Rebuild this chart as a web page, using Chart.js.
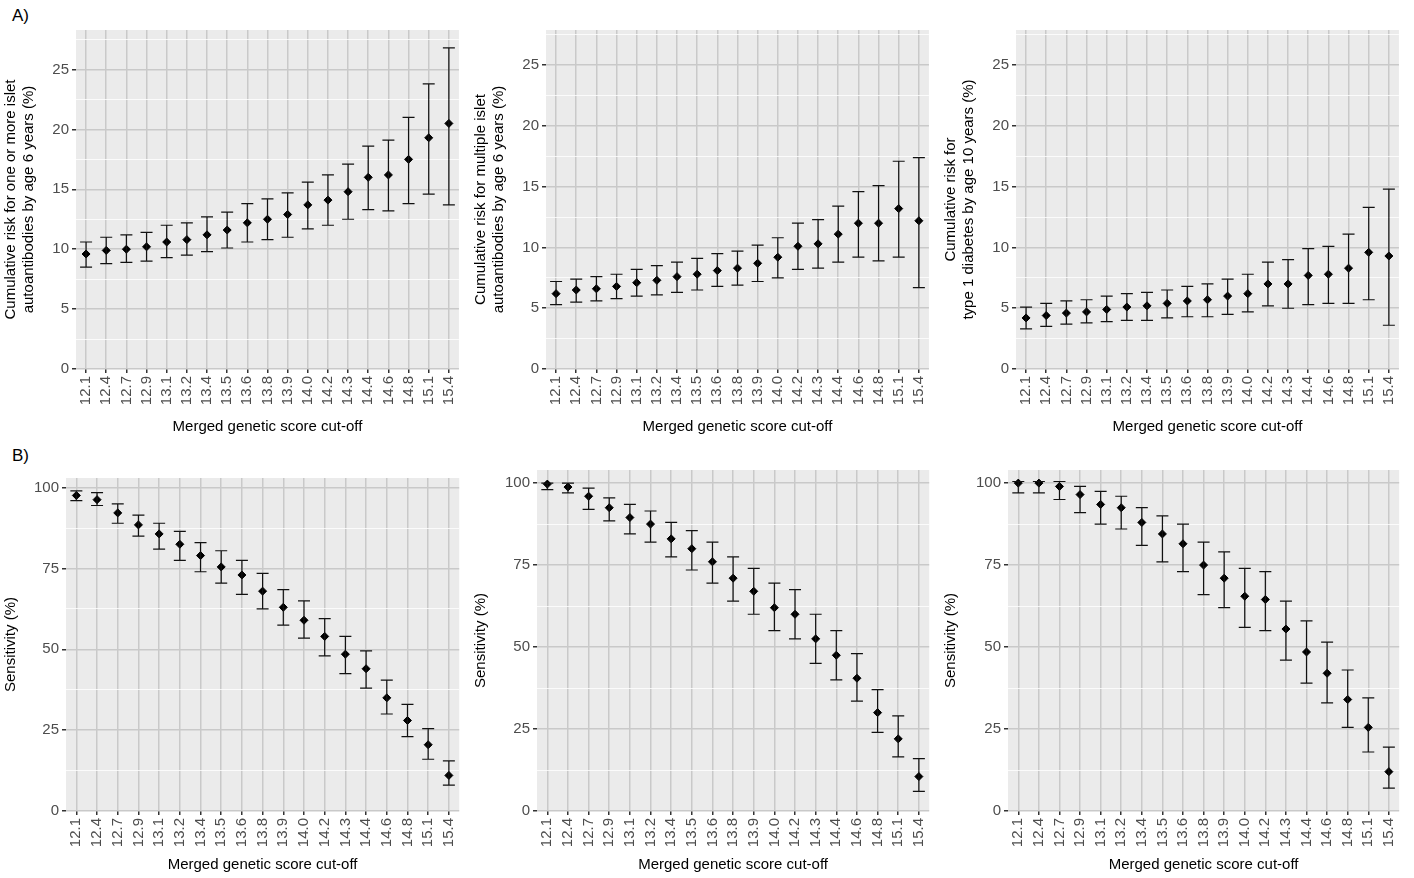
<!DOCTYPE html>
<html>
<head>
<meta charset="utf-8">
<script src="https://cdn.jsdelivr.net/npm/chart.js@4"></script>
<style>
  body { margin: 0; background: #fff; font-family: Arial, "Liberation Sans", sans-serif; }
  #wrap { position: relative; width: 1414px; height: 878px; }
  .pane { position: absolute; width: 470px; }
  .tag { position: absolute; left: 12px; font-size: 17px; color: #000; }
</style>
</head>
<body>
<div id="wrap">
  <div class="tag" style="top:6px">A)</div>
  <div class="tag" style="top:446px">B)</div>
  <div class="pane" style="left:0;top:0;height:440px"><canvas id="a1"></canvas></div>
  <div class="pane" style="left:470px;top:0;height:440px"><canvas id="a2"></canvas></div>
  <div class="pane" style="left:940px;top:0;height:440px"><canvas id="a3"></canvas></div>
  <div class="pane" style="left:0;top:440px;height:438px"><canvas id="b1"></canvas></div>
  <div class="pane" style="left:470px;top:440px;height:438px"><canvas id="b2"></canvas></div>
  <div class="pane" style="left:940px;top:440px;height:438px"><canvas id="b3"></canvas></div>
</div>
<script>
// score cut-offs
var cutoffs = ['12.1','12.4','12.7','12.9','13.1','13.2','13.4','13.5','13.6','13.8','13.9','14.0','14.2','14.3','14.4','14.6','14.8','15.1','15.4'];

// A) cumulative risk, estimate + 95% CI
var riskAny = [9.6,9.9,10.0,10.2,10.6,10.8,11.2,11.6,12.2,12.5,12.9,13.7,14.1,14.8,16.0,16.2,17.5,19.3,20.5];
var riskAnyLo = [8.5,8.8,8.9,9.0,9.3,9.5,9.8,10.1,10.6,10.8,11.0,11.7,12.0,12.5,13.3,13.2,13.8,14.6,13.7];
var riskAnyHi = [10.6,11.0,11.2,11.4,12.0,12.2,12.7,13.1,13.8,14.2,14.7,15.6,16.2,17.1,18.6,19.1,21.0,23.8,26.8];

var riskMulti = [6.2,6.5,6.6,6.8,7.1,7.3,7.6,7.8,8.1,8.3,8.7,9.2,10.1,10.3,11.1,12.0,12.0,13.2,12.2];
var riskMultiLo = [5.3,5.5,5.6,5.8,6.0,6.1,6.3,6.5,6.8,6.9,7.2,7.5,8.2,8.3,8.8,9.2,8.9,9.2,6.7];
var riskMultiHi = [7.2,7.4,7.6,7.8,8.2,8.5,8.8,9.1,9.5,9.7,10.2,10.8,12.0,12.3,13.4,14.6,15.1,17.1,17.4];

var riskT1d = [4.2,4.4,4.6,4.7,4.9,5.1,5.2,5.4,5.6,5.7,6.0,6.2,7.0,7.0,7.7,7.8,8.3,9.6,9.3];
var riskT1dLo = [3.3,3.5,3.7,3.8,3.9,4.0,4.0,4.2,4.3,4.3,4.5,4.7,5.2,5.0,5.3,5.4,5.4,5.7,3.6];
var riskT1dHi = [5.1,5.4,5.6,5.7,6.0,6.2,6.3,6.5,6.8,7.0,7.4,7.8,8.8,9.0,9.9,10.1,11.1,13.3,14.8];

// B) sensitivity
var sensAny = [97.6,96.3,92.2,88.5,85.7,82.5,79,75.5,73,68,63,59,54,48.5,44,35,28,20.5,11];
var sensAnyLo = [96,94.5,89,85,81,77.5,74,70.5,67,62.5,57.5,53.5,48,42.5,38,30,23,16,8];
var sensAnyHi = [99,98.5,95,91.5,89,86.5,83,80.5,77.5,73.5,68.5,65,59.5,54,49.5,40.5,33,25.5,15.5];

var sensMulti = [99.7,98.8,96,92.5,89.5,87.5,83,80,76,71,67,62,60,52.5,47.5,40.5,30,22,10.5];
var sensMultiLo = [98,97,92,88.5,84.5,82,77.5,73.5,69.5,64,60,55,52.5,45,40,33.5,24,16.5,6];
var sensMultiHi = [100,100,98.5,95.5,93.5,91.5,88,85.5,82,77.5,74,69.5,67.5,60,55,48,37,29,16];

var sensT1d = [100,100,99,96.5,93.5,92.5,88,84.5,81.5,75,71,65.5,64.5,55.5,48.5,42,34,25.5,12];
var sensT1dLo = [97,97,95,91,87.5,86,81,76,73,66,62,56,55,46,39,33,25.5,18,7];
var sensT1dHi = [100.5,100.5,100.5,99,97.5,96,92.5,90,87.5,82,79,74,73,64,58,51.5,43,34.5,19.5];

var xTitle = 'Merged genetic score cut-off';

// draws the CI whiskers from the dataset's lo/hi arrays
var errorBars = {
  id: 'errorBars',
  afterDatasetsDraw: function(chart) {
    var ds = chart.data.datasets[0];
    var x = chart.scales.x, y = chart.scales.y, ctx = chart.ctx;
    ctx.save();
    ctx.strokeStyle = '#111';
    ctx.lineWidth = 1.2;
    for (var i = 0; i < ds.data.length; i++) {
      var px = x.getPixelForValue(i);
      var top = y.getPixelForValue(ds.hi[i]);
      var bot = y.getPixelForValue(ds.lo[i]);
      ctx.beginPath();
      ctx.moveTo(px, top); ctx.lineTo(px, bot);
      ctx.moveTo(px - 6, top); ctx.lineTo(px + 6, top);
      ctx.moveTo(px - 6, bot); ctx.lineTo(px + 6, bot);
      ctx.stroke();
    }
    ctx.restore();
  }
};

var panelBg = {
  id: 'panelBg',
  beforeDraw: function(chart) {
    var a = chart.chartArea;
    chart.ctx.save();
    chart.ctx.fillStyle = '#EBEBEB';
    chart.ctx.fillRect(a.left, a.top, a.right - a.left, a.bottom - a.top);
    chart.ctx.restore();
  }
};

function makePanel(id, values, lo, hi, yTitle, yMax, step, major, yWidth, topPad, xHeight) {
  new Chart(document.getElementById(id), {
    type: 'line',
    data: {
      labels: cutoffs,
      datasets: [{ data: values, lo: lo, hi: hi, showLine: false,
        pointStyle: 'rectRot', pointRadius: 4, pointBackgroundColor: '#000', pointBorderColor: '#000' }]
    },
    options: {
      responsive: true,
      maintainAspectRatio: false,
      animation: false,
      layout: { padding: { top: topPad, right: 3 } },
      plugins: { legend: { display: false }, tooltip: { enabled: false } },
      scales: {
        x: {
          offset: true,
          grid: { color: '#C9C9C9', lineWidth: 1.5, drawTicks: true, tickColor: '#333', tickLength: 4 },
          border: { display: false },
          ticks: { color: '#4D4D4D', font: { size: 15 }, maxRotation: 90, minRotation: 90, autoSkip: false },
          title: { display: true, text: xTitle, color: '#000', font: { size: 15 }, padding: { top: 4 } },
          afterFit: function(s) { s.height = xHeight; }
        },
        y: {
          min: 0, max: yMax,
          afterBuildTicks: function(s) {
            var t = [];
            for (var v = 0; v <= yMax; v += step) t.push({ value: v });
            s.ticks = t;
          },
          grid: {
            color: function(c) { return c.tick && c.tick.value % major === 0 ? '#C9C9C9' : '#FFFFFF'; },
            lineWidth: function(c) { return c.tick && c.tick.value % major === 0 ? 1.5 : 0.8; },
            tickColor: function(c) { return c.tick && c.tick.value % major === 0 ? '#333' : 'rgba(0,0,0,0)'; },
            tickLength: 4
          },
          border: { display: false },
          ticks: {
            color: '#4D4D4D', font: { size: 15 },
            callback: function(v) { return v % major === 0 ? v : ''; }
          },
          title: { display: true, text: yTitle, color: '#000', font: { size: 15 }, padding: 2 },
          afterFit: function(s) { s.width = yWidth; }
        }
      }
    },
    plugins: [panelBg, errorBars]
  });
}

makePanel('a1', riskAny, riskAnyLo, riskAnyHi,
  ['Cumulative risk for one or more islet', 'autoantibodies by age 6 years (%)'], 28.3, 2.5, 5, 76, 30, 71);
makePanel('a2', riskMulti, riskMultiLo, riskMultiHi,
  ['Cumulative risk for multiple islet', 'autoantibodies by age 6 years (%)'], 27.9, 2.5, 5, 76, 30, 71);
makePanel('a3', riskT1d, riskT1dLo, riskT1dHi,
  ['Cumulative risk for', 'type 1 diabetes by age 10 years (%)'], 27.9, 2.5, 5, 76, 30, 71);
makePanel('b1', sensAny, sensAnyLo, sensAnyHi, 'Sensitivity (%)', 103, 12.5, 25, 66, 38, 67);
makePanel('b2', sensMulti, sensMultiLo, sensMultiHi, 'Sensitivity (%)', 104, 12.5, 25, 67, 30, 67);
makePanel('b3', sensT1d, sensT1dLo, sensT1dHi, 'Sensitivity (%)', 104, 12.5, 25, 68, 30, 67);
</script>
</body>
</html>
